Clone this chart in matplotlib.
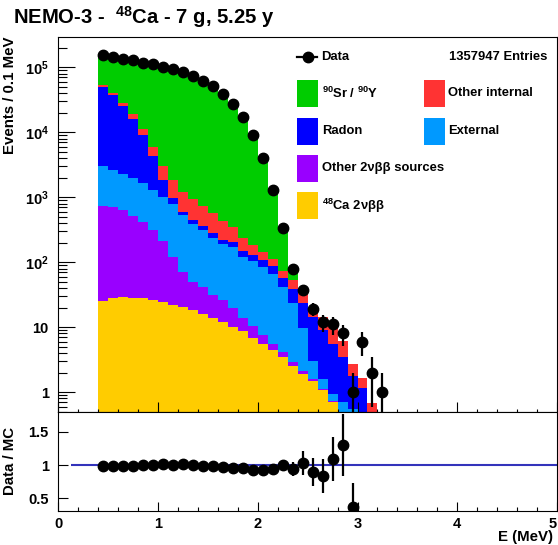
import numpy as np
import matplotlib
matplotlib.use('Agg')
import matplotlib.pyplot as plt
from matplotlib.patches import Rectangle
from matplotlib.ticker import FixedLocator, FixedFormatter, MultipleLocator

plt.rcParams['font.family'] = ['Liberation Sans', 'DejaVu Sans']
plt.rcParams['font.weight'] = 'bold'
plt.rcParams['mathtext.fontset'] = 'custom'
plt.rcParams['mathtext.rm'] = 'Liberation Sans:bold'
plt.rcParams['mathtext.it'] = 'Liberation Sans:bold'
plt.rcParams['mathtext.bf'] = 'Liberation Sans:bold'
plt.rcParams['mathtext.default'] = 'rm'

# histogram binning: 0.1 MeV bins from 0.4 MeV
bin_start = 0.4
bin_width = 0.1
n_bins = 29

# MC components, events per bin (stacked bottom -> top)
ca48_2nbb = [25.4, 28.2, 29.3, 28.6, 27.9, 26.3, 24.8, 22.3, 20.3, 18.5, 16.0, 13.9, 12.1, 10.2, 8.6,
             6.9, 5.5, 4.5, 3.45, 2.57, 1.91, 1.49, 1.06, 0.71, 0.45, 0.25, 0, 0, 0]
other_2nbb = [710, 689, 609, 492, 389, 288, 184, 96, 51, 31.5, 25, 17.5, 14.2, 9.4, 5.3,
              3.6, 2.1, 1.0, 0.75, 0.33, 0.19, 0.11, 0.05, 0.03, 0.02, 0.01, 0, 0, 0]
external = [2325, 1913, 1642, 1439, 1223, 976, 791, 670, 454, 335, 275, 203, 163, 154, 106,
            93.5, 76.4, 61, 37.5, 21, 7.7, 1.4, 0.49, 0.2, 0.24, 0.29, 0.1, 0, 0]
radon = [47240, 34870, 23420, 14040, 7440, 3030, 846, 178, 75, 63, 47, 45, 31, 33, 29,
         25, 26, 21.2, 15.3, 14.5, 13.6, 11.3, 7.5, 4.56, 2.79, 1.19, 1.05, 0, 0]
other_internal = [3100, 2700, 2800, 2900, 2120, 1620, 1194, 880, 620, 483, 372, 288, 212, 146, 85,
                  56, 35, 23.3, 16.5, 15, 9.9, 5.7, 5.4, 4.5, 2.7, 1.01, 0.49, 0.68, 0]
sr90_y90 = [102700, 108300, 109800, 110600, 107200, 104660, 98060, 91250, 81680, 73770, 62465, 51233,
            39368, 27747, 17866, 9735, 4185, 1283, 259.5, 30.6, 3.4, 0, 0, 0, 0, 0, 0, 0, 0]

# data counts per bin
data = [154500, 145500, 135500, 128200, 117800, 111200, 102100, 93100, 83750, 74300, 62230, 51050,
        38800, 26980, 17380, 9180, 4030, 1310, 333, 79, 38, 19, 12, 11, 8, 1, 6, 2, 1]

# data / MC ratio (first 26 bins visible)
ratio = [0.99, 0.98, 0.98, 0.99, 0.995, 1.005, 1.01, 1.0, 1.01, 0.995, 0.985, 0.985, 0.975,
         0.96, 0.96, 0.925, 0.93, 0.94, 1.0, 0.94, 1.035, 0.895, 0.835, 1.085, 1.30, 0.365]
ratio_err = [0.003, 0.003, 0.003, 0.003, 0.003, 0.003, 0.003, 0.003, 0.004, 0.004, 0.004, 0.005,
             0.005, 0.006, 0.008, 0.01, 0.015, 0.026, 0.055, 0.10, 0.18, 0.21, 0.25, 0.33, 0.47, 0.36]

n_entries = 1357947
ytick_vals = [1, 10, 100, 1000, 10000, 100000]
ytick_labels = ['1', '10', '$10^{2}$', '$10^{3}$', '$10^{4}$', '$10^{5}$']
xtick_labels = ['0', '1', '2', '3', '4', '5']

components = [
    (ca48_2nbb, '#FFCC00', '$^{48}$Ca 2\u03bd\u03b2\u03b2'),
    (other_2nbb, '#9900FF', 'Other 2\u03bd\u03b2\u03b2 sources'),
    (external, '#0099FF', 'External'),
    (radon, '#0000FF', 'Radon'),
    (other_internal, '#FF3333', 'Other internal'),
    (sr90_y90, '#00CC00', '$^{90}$Sr / $^{90}$Y'),
]

edges = np.round(bin_start + bin_width * np.arange(n_bins + 1), 3)
centers = edges[:-1] + bin_width / 2
data = np.array(data, dtype=float)

W, H = 558, 545
fig = plt.figure(figsize=(W / 100, H / 100), dpi=100)
ax = fig.add_axes([58.4 / W, 1 - 411.7 / H, 498.5 / W, 375 / H])
ax2 = fig.add_axes([58.4 / W, 1 - 511 / H, 498.5 / W, 99.3 / H], sharex=ax)

# stacked MC
ax.set_yscale('log')
base = np.full(n_bins, 1e-3)
for vals, col, _ in components:
    top = base + np.array(vals, dtype=float)
    ax.stairs(top, edges, baseline=base, fill=True, color=col, lw=0)
    base = top

# data with poisson errors
err = np.sqrt(data)
err_lo = np.minimum(err, data - 1e-3)
ax.errorbar(centers, data, yerr=[err_lo, err], fmt='o', color='black', ms=7.5,
            elinewidth=1.6, capsize=0, zorder=5)

ax.set_xlim(0, 5)
ax.set_ylim(0.5, 2.96e5)
ax.yaxis.set_major_locator(FixedLocator(ytick_vals))
ax.yaxis.set_major_formatter(FixedFormatter(ytick_labels))
ax.tick_params(axis='y', which='major', direction='in', length=12, width=0.8, labelsize=10.5, pad=7)
ax.tick_params(axis='y', which='minor', direction='in', length=6.5, width=0.8)
ax.tick_params(axis='x', which='both', direction='in', labelbottom=False)
ax.tick_params(axis='x', which='major', length=7, width=0.8)
ax.tick_params(axis='x', which='minor', length=2.5, width=0.8)
ax.xaxis.set_major_locator(MultipleLocator(1))
ax.xaxis.set_minor_locator(MultipleLocator(0.2))
for s in ax.spines.values():
    s.set_linewidth(0.8)

ax.set_ylabel('Events / 0.1 MeV', fontsize=10.8, fontweight='bold', loc='top')
ax.yaxis.set_label_coords(-0.083, 1.0)

# legend drawn by hand (ROOT style)
tr = ax.transAxes
fs = 9.4
ax.plot([0.479, 0.519], [0.9467, 0.9467], color='black', lw=1.6, transform=tr, clip_on=False)
ax.plot([0.5], [0.9467], 'o', color='black', ms=7.5, transform=tr, clip_on=False)
ax.text(0.528, 0.9467, 'Data', transform=tr, fontsize=fs, va='center', ha='left')
ax.text(0.980, 0.9467, '%d Entries' % n_entries, transform=tr, fontsize=fs, va='center', ha='right')

legend_slots = {
    '#00CC00': (0.4792, 0.849), '#FF3333': (0.7334, 0.849),
    '#0000FF': (0.4792, 0.748), '#0099FF': (0.7334, 0.748),
    '#9900FF': (0.4792, 0.649), '#FFCC00': (0.4792, 0.549),
}
for vals, col, label in components:
    x0, yc = legend_slots[col]
    ax.add_patch(Rectangle((x0, yc - 0.0356), 0.0422, 0.0712, transform=tr,
                           facecolor=col, edgecolor='none', clip_on=False))
    ax.text(x0 + 0.049, yc, label, transform=tr, fontsize=fs, va='center', ha='left')

fig.text(13 / W, 1 - 17 / H, 'NEMO-3 -  $^{48}$Ca - 7 g, 5.25 y', fontsize=14.6,
         fontweight='bold', ha='left', va='center')

# ratio panel
ax2.hlines(1.0, 0.13, 5.0, color='#3333BB', lw=1.5, zorder=2)
ax2.errorbar(centers[:len(ratio)], ratio, yerr=ratio_err, fmt='o', color='black', ms=7.5,
             elinewidth=1.6, capsize=0, zorder=5)
ax2.set_ylim(0.31, 1.8)
ax2.set_yticks([0.5, 1, 1.5])
ax2.set_yticklabels(['0.5', '1', '1.5'])
ax2.xaxis.set_minor_locator(MultipleLocator(0.2))
ax2.set_xticks([0, 1, 2, 3, 4, 5])
ax2.set_xticklabels(xtick_labels)
ax2.get_xticklabels()[-1].set_horizontalalignment('right')
ax2.tick_params(axis='y', which='major', direction='in', length=7, width=0.8, labelsize=10.5, pad=7)
ax2.tick_params(axis='x', which='major', direction='in', length=6.5, width=0.8, labelsize=10.5, pad=4)
ax2.tick_params(axis='x', which='minor', direction='in', length=3, width=0.8)
for s in ax2.spines.values():
    s.set_linewidth(0.8)
ax2.set_ylabel('Data / MC', fontsize=10.8, fontweight='bold')
ax2.yaxis.set_label_coords(-0.083, 0.5)
ax2.text(0.992, -0.262, 'E (MeV)', transform=ax2.transAxes, fontsize=10.8,
         ha='right', va='center')

fig.savefig('out.png', dpi=100)
